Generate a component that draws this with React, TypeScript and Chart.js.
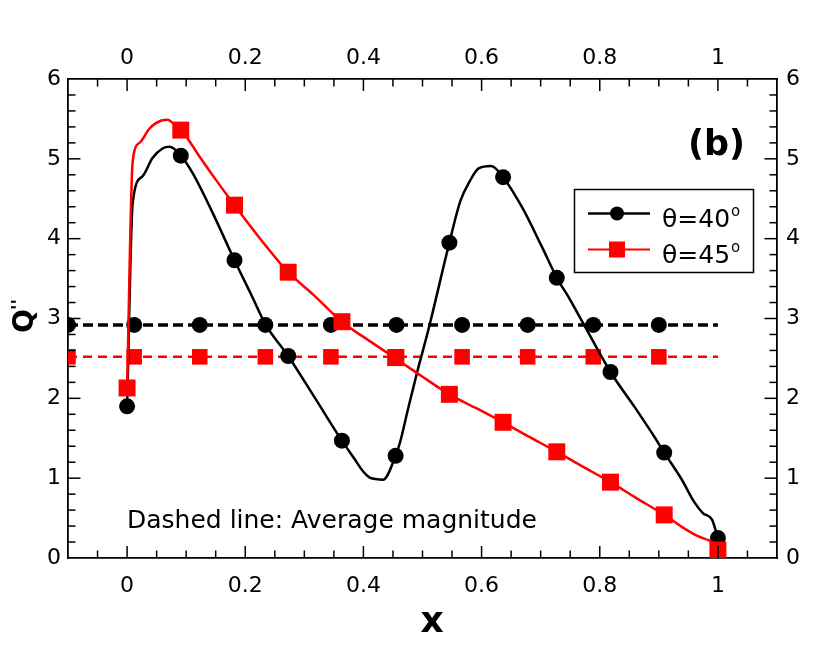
import {useEffect, useRef} from "react";

import {Chart, registerables} from "chart.js";

Chart.register(...registerables);

const FONT = "DejaVu Sans";
const RED = "#ff0000";
const BLACK = "#000000";

// markers on the two curves (every 1/11 along x)
const markerX = [0, 0.0909, 0.1818, 0.2727, 0.3636, 0.4545, 0.5455, 0.6364, 0.7273, 0.8182, 0.9091, 1.0];
const theta40Markers = [1.9, 5.04, 3.73, 2.53, 1.47, 1.28, 3.95, 4.77, 3.51, 2.33, 1.32, 0.25];
const theta45Markers = [2.13, 5.36, 4.42, 3.58, 2.96, 2.51, 2.05, 1.7, 1.33, 0.95, 0.54, 0.1];

// the solid curves
const theta40CurveX = [
  0, 0.0095, 0.026, 0.043, 0.06, 0.072, 0.0909, 0.111, 0.145, 0.1818, 0.21, 0.234, 0.2727, 0.32, 0.3636, 0.385,
  0.4, 0.41, 0.42, 0.433, 0.4545, 0.462, 0.475, 0.49, 0.51, 0.5455, 0.564, 0.58, 0.595, 0.616, 0.6364, 0.668, 0.702,
  0.7273, 0.747, 0.769, 0.8182, 0.86, 0.894, 0.9091, 0.939, 0.96, 0.975, 0.99, 1.0,
];
const theta40CurveY = [
  1.9, 4.45, 4.78, 5.01, 5.13, 5.15, 5.04, 4.82, 4.32, 3.73, 3.3, 2.93, 2.53, 1.98, 1.47, 1.24,
  1.08, 1.01, 0.99, 0.98, 1.28, 1.45, 1.85, 2.3, 2.86, 3.95, 4.47, 4.72, 4.88, 4.91, 4.77, 4.4, 3.9,
  3.51, 3.27, 2.98, 2.33, 1.88, 1.5, 1.32, 0.98, 0.7, 0.56, 0.48, 0.25,
];
const theta45CurveX = [
  0, 0.0095, 0.021, 0.038, 0.058, 0.069, 0.077, 0.0909, 0.1225, 0.151, 0.1818, 0.236, 0.2727, 0.315, 0.3636, 0.41,
  0.4545, 0.5, 0.5455, 0.59, 0.6364, 0.68, 0.7273, 0.77, 0.8182, 0.86, 0.9091, 0.939, 0.967, 0.985, 1.0,
];
const theta45CurveY = [
  2.13, 4.97, 5.2, 5.38, 5.48, 5.49, 5.45, 5.37, 5.03, 4.73, 4.42, 3.9, 3.58, 3.3, 2.96, 2.72,
  2.5, 2.27, 2.05, 1.88, 1.7, 1.52, 1.33, 1.15, 0.95, 0.76, 0.54, 0.39, 0.27, 0.22, 0.15,
];

// dashed average lines
const averageMarkerX = [-0.1, 0.012, 0.123, 0.234, 0.345, 0.456, 0.567, 0.678, 0.789, 0.9];
const averageEndX = 1.0;
const theta40Average = 2.92;
const theta45Average = 2.52;

const xTicks = [0, 0.2, 0.4, 0.6, 0.8, 1];
const yTicks = [0, 1, 2, 3, 4, 5, 6];
const xMinorStep = 0.05;
const yMinorStep = 0.2;

const toPoints = (xs: number[], ys: number[]) => xs.map((x, i) => ({x, y: ys[i]}));
const flatLine = (xs: number[], y: number) => xs.map(x => ({x, y}));

function drawDegreeLabel(ctx: CanvasRenderingContext2D, text: string, x: number, y: number) {
  ctx.font = `25px "${FONT}"`;
  ctx.fillText(text, x, y);
  const w = ctx.measureText(text).width;
  ctx.font = `15px "${FONT}"`;
  ctx.fillText("o", x + w + 1, y - 11.5);
}

const decorations = {
  id: "decorations",
  afterDraw(chart: Chart) {
    const {ctx, chartArea: a, scales} = chart;
    ctx.save();
    ctx.strokeStyle = BLACK;
    ctx.fillStyle = BLACK;
    ctx.lineWidth = 1.5;

    const line = (x1: number, y1: number, x2: number, y2: number) => {
      ctx.beginPath();
      ctx.moveTo(x1, y1);
      ctx.lineTo(x2, y2);
      ctx.stroke();
    };

    // inward ticks on all four sides
    const xs = scales.x;
    for (let i = -1; i <= 21; i++) {
      const v = i * xMinorStep;
      const major = Math.abs(v / 0.2 - Math.round(v / 0.2)) < 1e-6;
      const len = major ? 12 : 7.5;
      const px = xs.getPixelForValue(v);
      line(px, a.bottom, px, a.bottom - len);
      line(px, a.top, px, a.top + len);
    }
    const ys = scales.y;
    for (let i = 1; i < 30; i++) {
      const v = i * yMinorStep;
      const major = Math.abs(v - Math.round(v)) < 1e-6;
      const len = major ? 12.5 : 7.5;
      const py = ys.getPixelForValue(v);
      line(a.left, py, a.left + len, py);
      line(a.right, py, a.right - len, py);
    }

    ctx.textAlign = "left";
    ctx.textBaseline = "alphabetic";

    // panel tag and note
    ctx.font = `bold 35px "${FONT}"`;
    ctx.fillText("(b)", 688, 155);
    ctx.font = `25px "${FONT}"`;
    ctx.fillText("Dashed line: Average magnitude", 127, 528);

    // legend
    ctx.lineWidth = 1.5;
    ctx.strokeRect(574.5, 189.5, 179, 83);
    ctx.strokeStyle = BLACK;
    ctx.lineWidth = 2.5;
    line(588, 213.5, 650, 213.5);
    ctx.beginPath();
    ctx.arc(617, 213.5, 7, 0, Math.PI * 2);
    ctx.fill();
    ctx.strokeStyle = RED;
    ctx.lineWidth = 2;
    line(588, 249.5, 650, 249.5);
    ctx.fillStyle = RED;
    ctx.fillRect(609, 241.5, 16, 16);
    ctx.fillStyle = BLACK;
    drawDegreeLabel(ctx, "θ=40", 662, 227);
    drawDegreeLabel(ctx, "θ=45", 662, 263);

    // axis titles
    ctx.font = `bold 36px "${FONT}"`;
    ctx.textAlign = "center";
    ctx.fillText("x", 432, 632);

    ctx.save();
    ctx.translate(33, 333);
    ctx.rotate(-Math.PI / 2);
    ctx.textAlign = "left";
    ctx.font = `bold 28px "${FONT}"`;
    ctx.fillText("Q", 0, 0);
    ctx.font = `bold 18px "${FONT}"`;
    ctx.fillText("''", 23, -9.5);
    ctx.restore();

    ctx.restore();
  },
};

function axis(position: "left" | "right" | "top" | "bottom", size: number, padding: number, tickValues: number[]) {
  const horizontal = position === "top" || position === "bottom";
  return {
    type: "linear" as const,
    position,
    min: horizontal ? -0.1 : 0,
    max: horizontal ? 1.1 : 6,
    grid: {display: true, drawOnChartArea: false, drawTicks: false, color: "rgba(0,0,0,0)"},
    border: {display: true, color: BLACK, width: 1.8},
    ticks: {
      color: BLACK,
      font: {family: FONT, size: 22},
      padding,
      autoSkip: false,
      maxRotation: 0,
      callback: (v: number | string) => String(v),
    },
    afterBuildTicks: (scale: any) => {
      scale.ticks = tickValues.map(value => ({value}));
    },
    afterFit: (scale: any) => {
      if (horizontal) scale.height = size;
      else scale.width = size;
    },
  };
}

export default function App() {
  const canvasRef = useRef<HTMLCanvasElement>(null);

  useEffect(() => {
    if (!canvasRef.current) return;

    const chart = new Chart(canvasRef.current, {
      type: "scatter",
      data: {
        datasets: [
          {
            label: "θ=45° markers",
            data: toPoints(markerX, theta45Markers),
            showLine: false,
            pointStyle: "rect",
            pointRadius: 12,
            pointBackgroundColor: RED,
            pointBorderWidth: 0,
            clip: 0,
          },
          {
            label: "θ=45°",
            data: toPoints(theta45CurveX, theta45CurveY),
            showLine: true,
            borderColor: RED,
            borderWidth: 2.5,
            pointRadius: 0,
            cubicInterpolationMode: "monotone",
            clip: 0,
          },
          {
            label: "θ=40° markers",
            data: toPoints(markerX, theta40Markers),
            showLine: false,
            pointStyle: "circle",
            pointRadius: 8,
            pointBackgroundColor: BLACK,
            pointBorderWidth: 0,
            clip: 0,
          },
          {
            label: "θ=40°",
            data: toPoints(theta40CurveX, theta40CurveY),
            showLine: true,
            borderColor: BLACK,
            borderWidth: 2.5,
            pointRadius: 0,
            cubicInterpolationMode: "monotone",
            clip: 0,
          },
          {
            label: "θ=45° average",
            data: flatLine([...averageMarkerX, averageEndX], theta45Average),
            showLine: true,
            borderColor: RED,
            borderWidth: 2.5,
            borderDash: [9, 6],
            pointStyle: "rect",
            pointRadius: (c: any) => (c.dataIndex < averageMarkerX.length ? 11 : 0),
            pointBackgroundColor: RED,
            pointBorderWidth: 0,
            clip: 0,
          },
          {
            label: "θ=40° average",
            data: flatLine([...averageMarkerX, averageEndX], theta40Average),
            showLine: true,
            borderColor: BLACK,
            borderWidth: 3.5,
            borderDash: [10, 5],
            pointStyle: "circle",
            pointRadius: (c: any) => (c.dataIndex < averageMarkerX.length ? 8 : 0),
            pointBackgroundColor: BLACK,
            pointBorderWidth: 0,
            clip: 0,
          },
        ],
      },
      options: {
        responsive: false,
        animation: false,
        events: [],
        layout: {padding: 0},
        plugins: {
          legend: {display: false},
          tooltip: {enabled: false},
        },
        scales: {
          x: axis("bottom", 93, 15, xTicks),
          x2: axis("top", 79, 8, xTicks),
          y: axis("left", 68, 7, yTicks),
          y2: axis("right", 53, 9, yTicks),
        },
      } as any,
      plugins: [decorations],
    });

    return () => {
      chart.destroy();
    };
  }, []);

  return (
    <div style={{position: "absolute", left: 0, top: 0, width: 830, height: 651, background: "#ffffff"}}>
      <canvas ref={canvasRef} width={830} height={651} style={{display: "block"}} />
    </div>
  );
}
